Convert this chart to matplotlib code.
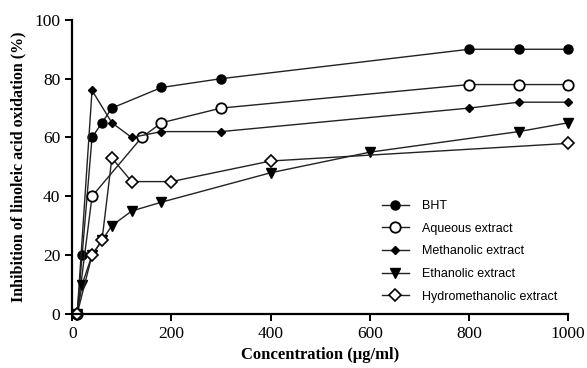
import matplotlib
matplotlib.use('Agg')
import matplotlib.pyplot as plt

# data
bht_x = [10, 20, 40, 60, 80, 180, 300, 800, 900, 1000]
bht_y = [0, 20, 60, 65, 70, 77, 80, 90, 90, 90]

aq_x = [10, 40, 140, 180, 300, 800, 900, 1000]
aq_y = [0, 40, 60, 65, 70, 78, 78, 78]

meth_x = [10, 40, 80, 120, 180, 300, 800, 900, 1000]
meth_y = [0, 76, 65, 60, 62, 62, 70, 72, 72]

eth_x = [10, 20, 40, 60, 80, 120, 180, 400, 600, 900, 1000]
eth_y = [0, 10, 20, 25, 30, 35, 38, 48, 55, 62, 65]

hyd_x = [10, 40, 60, 80, 120, 200, 400, 1000]
hyd_y = [0, 20, 25, 53, 45, 45, 52, 58]

plt.rcParams['font.family'] = 'Liberation Serif'

fig = plt.figure(figsize=(5.87, 3.68), dpi=100)
ax = fig.add_axes([0.123, 0.147, 0.845, 0.799])

lc = '#222222'
common = dict(color=lc, lw=1, clip_on=False)
ax.plot(bht_x, bht_y, marker='o', ms=6.5, mfc='black', mec='black', label='BHT', **common)
ax.plot(aq_x, aq_y, marker='o', ms=7.5, mfc='white', mec='black', mew=1.3, label='Aqueous extract', **common)
ax.plot(meth_x, meth_y, marker='D', ms=4, mfc='black', mec='black', label='Methanolic extract', **common)
ax.plot(eth_x, eth_y, marker='v', ms=6.5, mfc='black', mec='black', label='Ethanolic extract', **common)
ax.plot(hyd_x, hyd_y, marker='D', ms=6.5, mfc='white', mec='black', mew=1.2, label='Hydromethanolic extract', **common)

ax.set_xlim(0, 1000)
ax.set_ylim(0, 100)
ax.set_xticks([0, 200, 400, 600, 800, 1000])
ax.set_yticks([0, 20, 40, 60, 80, 100])
for s in ['top', 'right']:
    ax.spines[s].set_visible(False)
for s in ['left', 'bottom']:
    ax.spines[s].set_linewidth(1.6)
ax.tick_params(direction='out', length=5, width=1.4, labelsize=12.5, colors='black')

ax.set_xlabel('Concentration (µg/ml)', fontsize=12, fontweight='bold', labelpad=4)
ax.set_ylabel('Inhibition of linoleic acid oxidation (%)', fontsize=11.5, fontweight='bold', labelpad=6)

leg = ax.legend(loc='lower right', bbox_to_anchor=(1.0, 0.0), frameon=False,
                prop={'family': 'Liberation Sans', 'size': 9}, handlelength=2.2,
                handletextpad=1.0, labelspacing=0.85)

fig.savefig('out.png', dpi=100)
